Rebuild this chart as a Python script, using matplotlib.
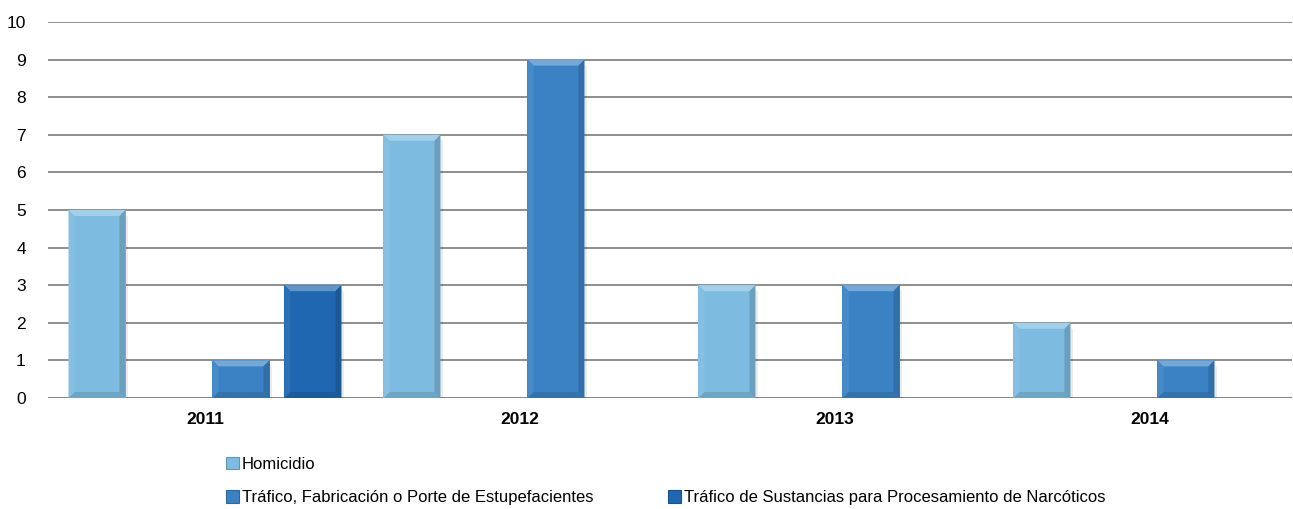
import matplotlib
matplotlib.use("Agg")
import matplotlib.pyplot as plt
from matplotlib.patches import Polygon, Rectangle
from matplotlib.colors import to_rgb
import numpy as np

years = ["2011", "2012", "2013", "2014"]
series_names = [
    "Homicidio",
    "",
    "Tráfico, Fabricación o Porte de Estupefacientes",
    "Tráfico de Sustancias para Procesamiento de Narcóticos",
]
homicidio = [5, 7, 3, 2]
sin_nombre = [0, 0, 0, 0]
trafico_fabricacion = [1, 9, 3, 1]
trafico_sustancias = [3, 0, 0, 0]
y_ticks = list(range(0, 11))

series_values = [homicidio, sin_nombre, trafico_fabricacion, trafico_sustancias]
colors = ["#7dbbe0", "#5a9bd5", "#3b82c4", "#1f67b0"]

W, H = 1293, 509
fig = plt.figure(figsize=(W / 100, H / 100), dpi=100)
ax_left, ax_right = 48 / W, 1292 / W
ax_bottom, ax_top = (H - 398) / H, (H - 22) / H
ax = fig.add_axes([ax_left, ax_bottom, ax_right - ax_left, ax_top - ax_bottom])

font = ["Liberation Sans Narrow", "Liberation Sans", "DejaVu Sans"]

group_px = 315.0
xlim = ((48 - 205) / group_px, (1292 - 205) / group_px)
ax.set_xlim(*xlim)
ax.set_ylim(0, 10)

slot = 72 / group_px
bar_w = 57 / group_px
offsets = (np.arange(4) - 1.5) * slot
x = np.arange(len(years))

# pixel -> data scale for the bevel edges
px_x = (ax_right - ax_left) * W / (xlim[1] - xlim[0])
px_y = (ax_top - ax_bottom) * H / 10.0
bev = 6.0
bx, by = bev / px_x, bev / px_y


def shade(c, f):
    r = np.array(to_rgb(c))
    if f >= 0:
        return tuple(r + (1 - r) * f)
    return tuple(r * (1 + f))


handles = []
for i, (vals, col, name) in enumerate(zip(series_values, colors, series_names)):
    bars = ax.bar(x + offsets[i], vals, width=bar_w, color=col, zorder=3,
                  linewidth=0, label=name)
    handles.append(Rectangle((0, 0), 1, 1, facecolor=col,
                             edgecolor=shade(col, -0.2), linewidth=0.8))
    for b, v in zip(bars, vals):
        if v <= 0:
            continue
        x0, x1 = b.get_x(), b.get_x() + b.get_width()
        y0, y1 = 0.0, v
        # soft drop shadow on the right side
        sx = 2.5 / px_x
        ax.add_patch(Polygon([(x1, y0), (x1 + sx, y0), (x1 + sx, y1 - 1.2 * by),
                              (x1, y1 - 0.6 * by)], closed=True, color="#000000",
                             alpha=0.08, lw=0, zorder=2.5))
        ax.add_patch(Polygon([(x0, y1), (x1, y1), (x1 - bx, y1 - by), (x0 + bx, y1 - by)],
                             closed=True, color=shade(col, 0.3), lw=0, zorder=4))
        ax.add_patch(Polygon([(x0, y0), (x1, y0), (x1 - bx, y0 + by), (x0 + bx, y0 + by)],
                             closed=True, color=shade(col, -0.12), lw=0, zorder=4))
        ax.add_patch(Polygon([(x0, y0), (x0, y1), (x0 + bx, y1 - by), (x0 + bx, y0 + by)],
                             closed=True, color=shade(col, 0.06), lw=0, zorder=4))
        ax.add_patch(Polygon([(x1, y0), (x1, y1), (x1 - bx, y1 - by), (x1 - bx, y0 + by)],
                             closed=True, color=shade(col, -0.15), lw=0, zorder=4))

ax.set_yticks(y_ticks)
ax.set_yticklabels([str(t) for t in y_ticks], family=font, fontsize=12.5)
ax.set_xticks(x)
ax.set_xticklabels(years, family=font, fontsize=12.5, fontweight="bold")
ax.tick_params(axis="y", length=0, pad=16)
ax.tick_params(axis="x", length=0, pad=10)
ax.grid(axis="y", color="#868686", linewidth=1.3, zorder=0)
ax.set_axisbelow(True)
for s in ax.spines.values():
    s.set_visible(False)
ax.axhline(0, color="#868686", linewidth=1.3, zorder=2)

# the unnamed series keeps its slot in the legend but shows nothing
handles[1] = Rectangle((0, 0), 1, 1, alpha=0)
order = [handles[0], handles[2], handles[1], handles[3]]
labels = [series_names[0], series_names[2], series_names[1], series_names[3]]
leg = fig.legend(order, labels, ncol=2, loc="upper left",
                 bbox_to_anchor=(226 / W, 1 - 457 / H), frameon=False,
                 prop={"family": font, "size": 12},
                 handlelength=0.75, handleheight=0.75, handletextpad=0.2,
                 columnspacing=4.5, labelspacing=1.1, borderaxespad=0,
                 borderpad=0)

fig.savefig("out.png", dpi=100)
